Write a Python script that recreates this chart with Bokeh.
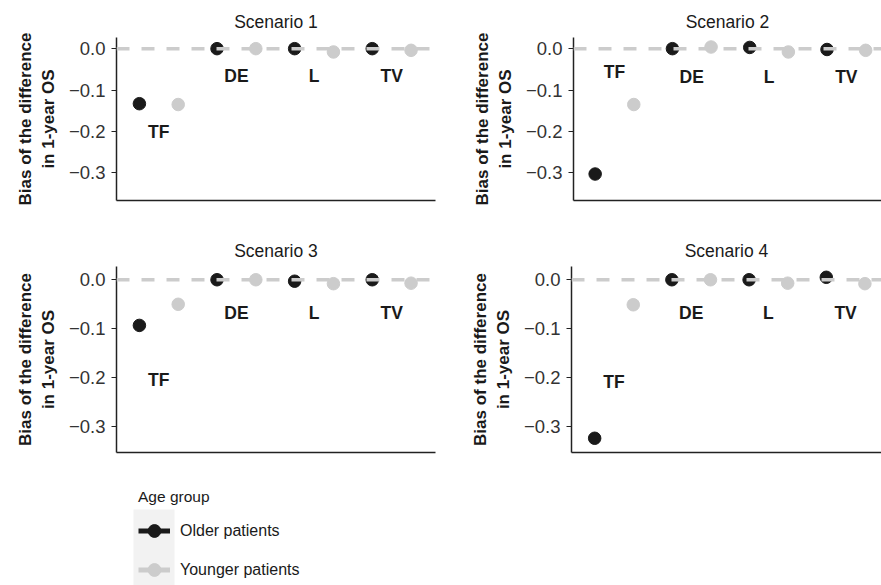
from bokeh.plotting import figure
from bokeh.layouts import column, row
from bokeh.models import (Span, FixedTicker, CustomJSTickFormatter, Range1d,
                          Legend, LegendItem, BoxAnnotation)
from bokeh.core.properties import value
from bokeh.embed import file_html
from bokeh.resources import INLINE

# ---------------- data ----------------
methods = ["TF", "DE", "L", "TV"]
scenarios = ["Scenario 1", "Scenario 2", "Scenario 3", "Scenario 4"]

older_s1 = [-0.133, 0.0, 0.0, 0.0]
younger_s1 = [-0.135, 0.0, -0.008, -0.004]
older_s2 = [-0.303, 0.0, 0.003, -0.002]
younger_s2 = [-0.135, 0.004, -0.008, -0.004]
older_s3 = [-0.093, 0.0, -0.003, 0.0]
younger_s3 = [-0.050, 0.0, -0.008, -0.007]
older_s4 = [-0.323, 0.0, 0.0, 0.005]
younger_s4 = [-0.051, 0.0, -0.007, -0.008]

older_all = [older_s1, older_s2, older_s3, older_s4]
younger_all = [younger_s1, younger_s2, younger_s3, younger_s4]

# vertical position of the method labels in each panel
label_y_s1 = [-0.202, -0.065, -0.065, -0.065]
label_y_s2 = [-0.057, -0.069, -0.069, -0.069]
label_y_s3 = [-0.204, -0.068, -0.068, -0.068]
label_y_s4 = [-0.208, -0.068, -0.068, -0.068]
label_y_all = [label_y_s1, label_y_s2, label_y_s3, label_y_s4]

y_ticks = [0.0, -0.1, -0.2, -0.3]
age_groups = ["Older patients", "Younger patients"]

# ---------------- style ----------------
FONT = "Liberation Sans"
DARK = "#1a1a1a"
GRAY = "#cccccc"
AXIS = "#222222"

x_older = [2 * i + 1 for i in range(len(methods))]
x_younger = [2 * i + 2 for i in range(len(methods))]
x_label = [2 * i + 1.5 for i in range(len(methods))]


def make_panel(idx, frame_w, frame_h, left, right, top, bottom, xr, yr, standoff):
    p = figure(frame_width=frame_w, frame_height=frame_h,
               min_border_left=left, min_border_right=right,
               min_border_top=top, min_border_bottom=bottom,
               x_range=Range1d(*xr), y_range=Range1d(*yr),
               output_backend="svg", toolbar_location=None,
               title=scenarios[idx])
    p.outline_line_color = None
    p.grid.visible = False
    p.background_fill_color = "white"
    p.border_fill_color = "white"

    p.title.text_font = FONT
    p.title.text_font_size = "17.5px"
    p.title.text_font_style = "normal"
    p.title.text_color = DARK
    p.title.align = "center"
    p.title.standoff = standoff

    ya = p.yaxis[0]
    ya.ticker = FixedTicker(ticks=y_ticks)
    ya.formatter = CustomJSTickFormatter(
        code="return (tick < -1e-9 ? '\u2212' : '') + Math.abs(tick).toFixed(1);")
    ya.major_label_text_font = FONT
    ya.major_label_text_font_size = "18.5px"
    ya.major_label_text_color = "#333333"
    ya.major_tick_out = 5
    ya.major_tick_in = 0
    ya.minor_tick_line_color = None
    ya.major_tick_line_color = AXIS
    ya.axis_line_color = AXIS
    ya.axis_line_width = 1.5
    ya.major_tick_line_width = 1.2
    ya.major_label_standoff = 6
    ya.axis_label = "Bias of the difference\nin 1-year OS"
    ya.axis_label_text_font = FONT
    ya.axis_label_text_font_size = "17px"
    ya.axis_label_text_font_style = "bold"
    ya.axis_label_text_color = DARK
    ya.axis_label_standoff = 8

    xa = p.xaxis[0]
    xa.ticker = FixedTicker(ticks=[])
    xa.major_tick_line_color = None
    xa.minor_tick_line_color = None
    xa.major_tick_out = 0
    xa.major_label_standoff = 0
    xa.axis_line_color = AXIS
    xa.axis_line_width = 1.5

    p.scatter(x=x_older, y=older_all[idx], size=12.5, color=DARK)
    p.scatter(x=x_younger, y=younger_all[idx], size=12.5, color=GRAY)

    p.add_layout(Span(location=0, dimension="width", line_color=GRAY,
                      line_width=3.5, line_dash="13 12"))

    p.text(x=x_label, y=label_y_all[idx], text=methods,
           text_font=value(FONT), text_font_style="bold",
           text_font_size="17.5px", text_align="center",
           text_baseline="middle", text_color=DARK)
    return p


p1 = make_panel(0, 319, 163, 116, 5, 37, 25, (0.41, 8.63), (-0.367, 0.027), 11)
p2 = make_panel(1, 308, 163, 133, 0, 37, 25, (0.44, 8.41), (-0.367, 0.027), 11)
p3 = make_panel(2, 319, 186, 116, 5, 41, 18, (0.41, 8.63), (-0.352, 0.027), 11)
p4 = make_panel(3, 310, 186, 131, 0, 41, 18, (0.40, 8.43), (-0.352, 0.027), 11)

# ---------------- legend ----------------
lg = figure(width=881, height=115, min_border_left=120, min_border_right=0,
            min_border_top=0, min_border_bottom=0,
            x_range=Range1d(0, 761), y_range=Range1d(0, 115),
            output_backend="svg", toolbar_location=None,
            x_axis_location=None, y_axis_location=None)
lg.outline_line_color = None
lg.grid.visible = False

key_bg = BoxAnnotation(left=13, right=54, top=76, bottom=0,
                       fill_color="#f2f2f2", fill_alpha=1, line_color=None,
                       level="underlay")
lg.add_layout(key_bg)

# legend-only renderers: a single point placed far outside the visible range
hidden_x = [-1000]
hidden_y = [-1000]
l_old = lg.line(x=hidden_x, y=hidden_y, line_color=DARK, line_width=5)
s_old = lg.scatter(x=hidden_x, y=hidden_y, size=12, color=DARK)
l_young = lg.line(x=hidden_x, y=hidden_y, line_color=GRAY, line_width=5)
s_young = lg.scatter(x=hidden_x, y=hidden_y, size=12, color=GRAY)

legend = Legend(items=[LegendItem(label=age_groups[0], renderers=[l_old, s_old]),
                       LegendItem(label=age_groups[1], renderers=[l_young, s_young])],
                title="Age group", location="top_left", margin=18,
                padding=0, spacing=0, glyph_width=32, glyph_height=39,
                label_height=39, label_standoff=10,
                label_text_font=FONT, label_text_font_size="16px",
                label_text_color=DARK,
                title_text_font=FONT, title_text_font_size="15.5px",
                title_text_font_style="normal", title_text_color=DARK,
                title_standoff=5,
                border_line_color=None, background_fill_alpha=0)
lg.add_layout(legend)

layout = column(row(p1, p2), row(p3, p4), lg)

with open("out.html", "w") as f:
    f.write(file_html(layout, INLINE))
